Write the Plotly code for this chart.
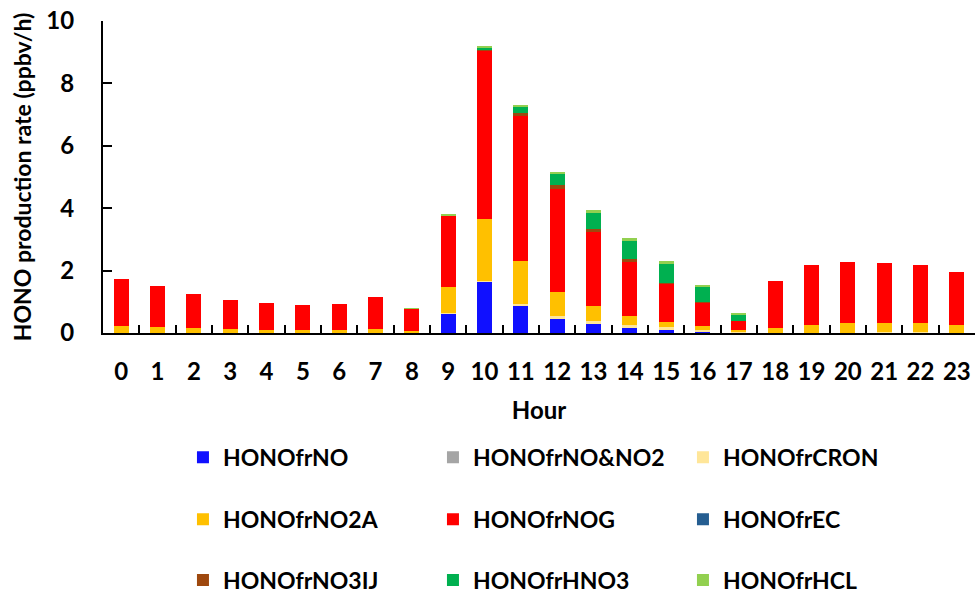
import plotly.graph_objects as go

# Hourly HONO production rates (ppbv/h) by source pathway
hours = [str(h) for h in range(24)]

no_vals =      [0, 0, 0, 0, 0, 0, 0, 0, 0, 0.61, 1.64, 0.875, 0.46, 0.29, 0.17, 0.10, 0.04, 0.01, 0, 0, 0, 0.02, 0.01, 0]
no_no2_vals =  [0] * 24
cron_vals =    [0.01, 0.01, 0.01, 0.01, 0.01, 0.01, 0.01, 0.01, 0.01, 0.02, 0.04, 0.05, 0.08, 0.09, 0.09, 0.08, 0.05, 0.03, 0.01, 0.01, 0.01, 0.01, 0.01, 0.01]
no2a_vals =    [0.21, 0.18, 0.15, 0.12, 0.10, 0.09, 0.09, 0.12, 0.06, 0.83, 1.98, 1.39, 0.77, 0.50, 0.29, 0.18, 0.12, 0.06, 0.16, 0.26, 0.31, 0.30, 0.31, 0.26]
nog_vals =     [1.51, 1.32, 1.10, 0.94, 0.85, 0.81, 0.84, 1.01, 0.71, 2.29, 5.39, 4.65, 3.29, 2.37, 1.74, 1.23, 0.76, 0.29, 1.50, 1.92, 1.96, 1.90, 1.85, 1.69]
ec_vals =      [0] * 24
no3ij_vals =   [0, 0, 0, 0, 0, 0, 0, 0, 0, 0.01, 0.05, 0.10, 0.13, 0.09, 0.07, 0.02, 0.01, 0, 0, 0, 0, 0, 0, 0]
hno3_vals =    [0, 0, 0, 0, 0, 0, 0, 0, 0.01, 0.02, 0.05, 0.18, 0.36, 0.52, 0.60, 0.61, 0.50, 0.21, 0, 0, 0, 0, 0, 0]
hcl_vals =     [0, 0, 0, 0, 0, 0, 0, 0, 0.01, 0.02, 0.03, 0.04, 0.07, 0.08, 0.07, 0.08, 0.06, 0.04, 0, 0, 0, 0, 0, 0]

series_names = ["HONOfrNO", "HONOfrNO&NO2", "HONOfrCRON",
                "HONOfrNO2A", "HONOfrNOG", "HONOfrEC",
                "HONOfrNO3IJ", "HONOfrHNO3", "HONOfrHCL"]
series_values = [no_vals, no_no2_vals, cron_vals,
                 no2a_vals, nog_vals, ec_vals,
                 no3ij_vals, hno3_vals, hcl_vals]
series_colors = ["#1010FF", "#A5A5A5", "#FFE699",
                 "#FFC000", "#FF0000", "#255E91",
                 "#9E480E", "#00B050", "#92D050"]
legend_ids = ["legend", "legend", "legend",
              "legend2", "legend2", "legend2",
              "legend3", "legend3", "legend3"]

FONT = "Lato"
fig = go.Figure()
for name, vals, color, lg in zip(series_names, series_values, series_colors, legend_ids):
    fig.add_trace(go.Bar(x=hours, y=vals, name=name, legend=lg,
                         marker=dict(color=color, line=dict(width=0))))

legend_common = dict(orientation="h", entrywidth=205, entrywidthmode="pixels",
                     traceorder="normal", xanchor="left", yanchor="middle",
                     font=dict(family=FONT, size=23, color="black", weight="bold"),
                     bgcolor="rgba(0,0,0,0)", itemclick=False, itemdoubleclick=False)

fig.update_layout(
    width=976, height=595,
    margin=dict(l=103, r=1, t=21, b=262, autoexpand=False),
    barmode="stack", bargap=0.59,
    plot_bgcolor="white", paper_bgcolor="white",
    font=dict(family=FONT, size=23, color="black", weight="bold"),
    legend=dict(x=0.0917, y=-0.398, **legend_common),
    legend2=dict(x=0.0917, y=-0.597, **legend_common),
    legend3=dict(x=0.0917, y=-0.792, **legend_common),
    xaxis=dict(type="category", showline=True, linecolor="black", linewidth=2,
               ticks="inside", tickson="boundaries", ticklen=8, tickwidth=2, tickcolor="black",
               tickangle=0, ticklabelstandoff=16,
               showgrid=False, tickfont=dict(family=FONT, size=24, weight="bold"),
               title=dict(text="Hour", standoff=18,
                          font=dict(family=FONT, size=24, weight="bold"))),
    yaxis=dict(range=[0, 10], tickvals=[0, 2, 4, 6, 8, 10], showline=True,
               linecolor="black", linewidth=2, ticks="inside", ticklen=9, tickwidth=1.5,
               tickcolor="black", showgrid=False, zeroline=False,
               ticklabelstandoff=22,
               tickfont=dict(family=FONT, size=24, weight="bold"),
               title=dict(text="HONO production rate (ppbv/h)", standoff=8,
                          font=dict(family=FONT, size=23, weight="bold"))),
)

fig.write_html("out.html")
